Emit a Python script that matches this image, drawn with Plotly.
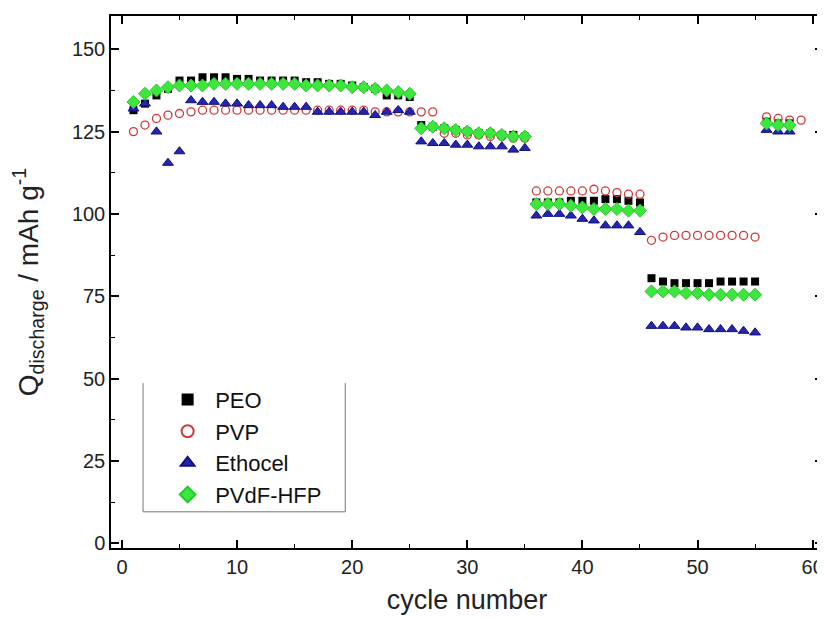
import plotly.graph_objects as go

cycles = list(range(1, 59))
cycles_pvp = list(range(1, 60))

peo = [131.5, 133.5, 136, 138, 140.5, 140.5, 141.5, 141.5, 141.5, 141,
       141, 140.5, 140.5, 140.5, 140.5, 140, 140, 139.5, 139.5, 139,
       138.5, 138, 136, 136, 135.5, 127, 126.5, 126, 125.5, 125,
       124.5, 124.5, 124, 124, 123.5, 103.5, 103.5, 103.5, 104, 104,
       104, 104.5, 104.5, 104, 103.5, 80.5, 79.5, 79, 79, 79,
       79, 79.5, 79.5, 79.5, 79.5, 128, 127.5, 127.5]

pvp = [125, 127, 129, 130, 130.5, 131, 131.5, 131.5, 131.5, 131.5,
       131.5, 131.5, 131.5, 131.5, 131.5, 131.5, 131.5, 131.5, 131.5, 131.5,
       131.5, 131, 131, 131, 131, 131, 131, 124.5, 124.5, 124,
       124, 123.5, 123.5, 123, 123, 107, 107, 107, 107, 107,
       107.5, 107, 106.5, 106, 106, 92, 93, 93.5, 93.5, 93.5,
       93.5, 93.5, 93.5, 93.5, 93, 129.5, 129, 128.5, 128.5]

ethocel = [132, 133.5, 125, 115.5, 119, 134.5, 134, 134, 133.5, 133.5,
           133, 133, 133, 132.5, 132.5, 132.5, 131, 131, 131, 131,
           131, 130, 131, 131.5, 131, 122, 121.5, 121.5, 121, 121,
           120.5, 120.5, 120.5, 119.5, 120, 99.5, 100, 100, 99.5, 98.5,
           98, 96.5, 96.5, 96.5, 94.5, 66, 66, 66, 65.5, 65.5,
           65, 65, 65, 64.5, 64, 125.5, 125, 125]

pvdf = [134, 136.5, 137.5, 138.5, 139, 139, 139, 139.5, 139.5, 139.5,
        139.5, 139.5, 139.5, 139.5, 139.5, 139, 139, 139, 139, 138.5,
        138.5, 138, 137.5, 137, 136.5, 126, 126.5, 126, 125.5, 125,
        124.5, 124.5, 124, 123.5, 123.5, 103, 103, 103, 102.5, 102,
        101.5, 101.5, 101.5, 101, 101, 76.5, 76.5, 76.5, 76, 76,
        75.5, 75.5, 75.5, 75.5, 75.5, 127.5, 127, 127]

x_ticks = [0, 10, 20, 30, 40, 50, 60]
y_ticks = [0, 25, 50, 75, 100, 125, 150]

FONT = "Liberation Sans, Arial, sans-serif"

fig = go.Figure()
fig.add_trace(go.Scatter(x=cycles, y=peo, mode="markers", name="PEO",
                         marker=dict(symbol="square", size=8, color="#000000",
                                     line=dict(width=0))))
fig.add_trace(go.Scatter(x=cycles_pvp, y=pvp, mode="markers", name="PVP",
                         marker=dict(symbol="circle-open", size=8, color="#cc3a3a",
                                     line=dict(width=1.3, color="#cc3a3a"))))
fig.add_trace(go.Scatter(x=cycles, y=ethocel, mode="markers", name="Ethocel",
                         marker=dict(symbol="triangle-up", size=9.5, color="#2525b0",
                                     line=dict(width=1, color="#101080"))))
fig.add_trace(go.Scatter(x=cycles, y=pvdf, mode="markers", name="PVdF-HFP",
                         marker=dict(symbol="diamond", size=10, color="#3ce63c",
                                     line=dict(width=1, color="#28c828"))))

axis_common = dict(showline=True, linecolor="#000000", linewidth=1.5, mirror="ticks",
                   ticks="inside", ticklen=8, tickwidth=1.5, tickcolor="#000000",
                   showgrid=False, zeroline=False, automargin=False,
                   tickfont=dict(family=FONT, size=20, color="#222222"))

fig.update_xaxes(range=[-0.95, 60.9], tickvals=x_ticks,
                 minor=dict(dtick=5, ticks="inside", ticklen=4, tickcolor="#000000", tickwidth=1.2),
                 title=dict(text="cycle number", font=dict(family=FONT, size=27, color="#222222"),
                            standoff=13),
                 **axis_common)
fig.update_yaxes(range=[-1.4, 160.1], tickvals=y_ticks,
                 minor=dict(dtick=12.5, ticks="inside", ticklen=4, tickcolor="#000000", tickwidth=1.2),
                 title=dict(text="Q<sub>discharge</sub> / mAh g<sup>-1</sup>",
                            font=dict(family=FONT, size=28, color="#222222"), standoff=25),
                 **axis_common)

# legend frame (left, right, bottom lines)
lx0, lx1, ly0, ly1 = 0.045, 0.329, 0.068, 0.310
for x0, y0, x1, y1 in [(lx0, ly0, lx0, ly1), (lx1, ly0, lx1, ly1), (lx0, ly0, lx1, ly0)]:
    fig.add_shape(type="line", xref="paper", yref="paper", x0=x0, y0=y0, x1=x1, y1=y1,
                  line=dict(color="#777777", width=1))

# the page body adds an 8 px offset; the figure is sized to compensate
fig.update_layout(
    width=817, height=610,
    margin=dict(l=103, r=2, t=8, b=70),
    plot_bgcolor="white", paper_bgcolor="white",
    font=dict(family=FONT),
    legend=dict(x=0.069, y=0.318, xanchor="left", yanchor="top",
                bgcolor="rgba(0,0,0,0)", borderwidth=0, itemwidth=45,
                font=dict(family=FONT, size=22, color="#111111"),
                tracegroupgap=0, itemsizing="constant"),
    showlegend=True,
)

fig.write_html("out.html")
